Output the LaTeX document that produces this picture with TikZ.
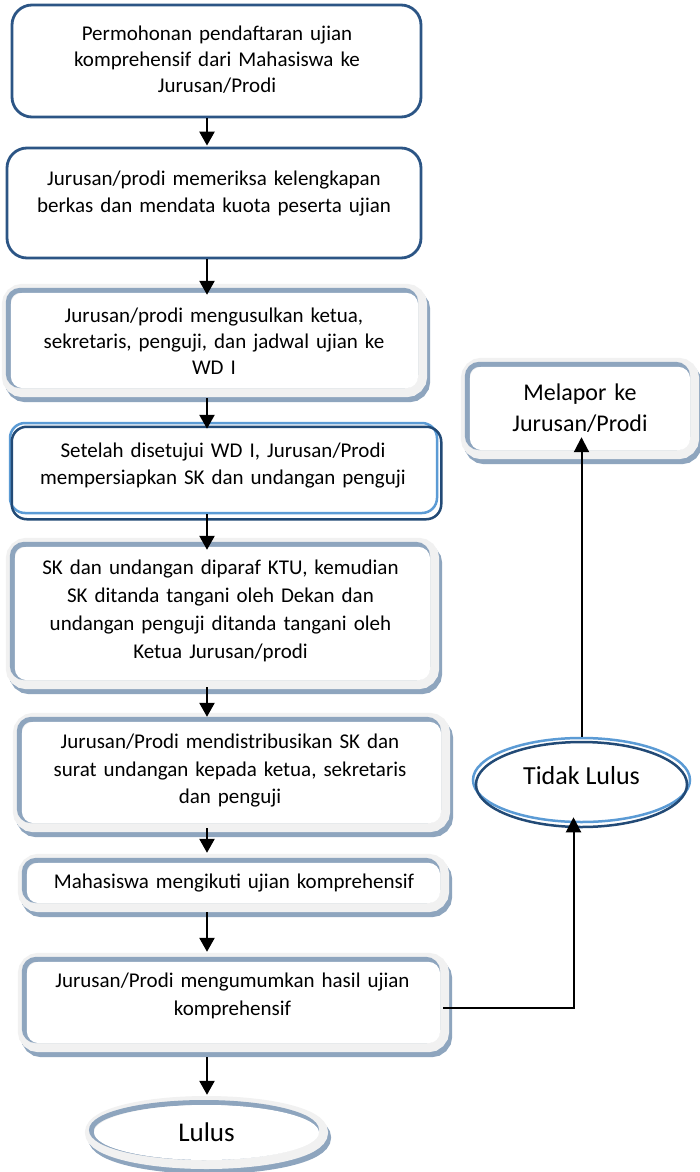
\documentclass[tikz,border=0pt]{standalone}
\usepackage{fontspec}
\setmainfont{Carlito}
\usetikzlibrary{arrows.meta,shapes.geometric,calc}
\pgfdeclarelayer{background}
\pgfsetlayers{background,main}
\definecolor{boxblue}{RGB}{44,85,133}
\definecolor{lblue}{RGB}{91,155,213}
\definecolor{dblue}{RGB}{34,74,118}
\definecolor{bevblue}{RGB}{142,165,190}
\definecolor{bevgray}{RGB}{241,241,241}

\newcommand\bevelrect[1]{%
 \begin{pgfonlayer}{background}
 \draw[bevblue,line width=18pt,rounded corners=12pt] ([shift={(3,5)}]#1.south west) rectangle ([shift={(3,5)}]#1.north east);
 \draw[bevgray,line width=18pt,rounded corners=12pt] (#1.south west) rectangle (#1.north east);
 \draw[bevblue,line width=5pt,rounded corners=12pt] ([shift={(-2.5,-2.5)}]#1.south west) rectangle ([shift={(-2.5,-2.5)}]#1.north east);
 \fill[white,rounded corners=12pt] (#1.south west) rectangle (#1.north east);
 \end{pgfonlayer}}

\newcommand\bevelell[3]{%
 \begin{pgfonlayer}{background}
 \draw[bevblue,line width=18pt] ([shift={(3,5)}]#1.center) ellipse [x radius=#2, y radius=#3];
 \draw[bevgray,line width=18pt] (#1.center) ellipse [x radius=#2, y radius=#3];
 \draw[bevblue,line width=5pt] ([shift={(-2.5,-2.5)}]#1.center) ellipse [x radius=#2, y radius=#3];
 \fill[white] (#1.center) ellipse [x radius=#2, y radius=#3];
 \end{pgfonlayer}}

\begin{document}
\begin{tikzpicture}[x=1pt,y=-1pt,
  plainbox/.style={draw=boxblue, line width=2.8pt, rounded corners=20pt, inner sep=0pt},
  bevbox/.style={inner sep=0pt},
  txt/.style={align=center, text width=430pt, inner sep=0pt, font=\fontsize{21}{27}\selectfont},
  arr/.style={line width=2.5pt, -{Triangle[width=15pt,length=14pt]}},
  sarr/.style={line width=2pt, -{Triangle[width=15pt,length=15pt]}}]
\useasboundingbox (0,0) rectangle (700,1172);
\begin{pgfonlayer}{background}
\fill[white] (0,0) rectangle (700,1172);
\end{pgfonlayer}

% box 1
\node[plainbox, minimum width=409pt, minimum height=112pt] (b1) at (216.5,61) {};
\node[txt, font=\fontsize{21}{26}\selectfont] (t1) at (217,59.5) {Permohonan pendaftaran ujian\\komprehensif dari Mahasiswa ke\\Jurusan/Prodi};
% box 2
\node[plainbox, minimum width=414pt, minimum height=110pt] (b2) at (214,203) {};
\node[txt] (t2) at (214,193.5) {Jurusan/prodi memeriksa kelengkapan\\berkas dan mendata kuota peserta ujian};
% box 3
\node[bevbox, minimum width=407pt, minimum height=95pt] (b3) at (214.5,340.5) {};
\bevelrect{b3}
\node[txt, font=\fontsize{21}{26}\selectfont] (t3) at (214,341) {Jurusan/prodi mengusulkan ketua,\\sekretaris, penguji, dan jadwal ujian ke\\WD I};
% box 4
\node[draw=lblue, line width=2.5pt, rounded corners=15pt, inner sep=0pt, minimum width=427pt, minimum height=90pt] (b4) at (223.5,468) {};
\draw[dblue, line width=2.5pt, rounded corners=15pt] ([shift={(3,5)}]b4.south west) rectangle ([shift={(3,5)}]b4.north east);
\node[txt] (t4) at (223,465.5) {Setelah disetujui WD I, Jurusan/Prodi\\mempersiapkan SK dan undangan penguji};
% box 5
\node[bevbox, minimum width=415pt, minimum height=133pt] (b5) at (222.5,613.5) {};
\bevelrect{b5}
\node[txt, font=\fontsize{21}{28}\selectfont] (t5) at (220.5,611) {SK dan undangan diparaf KTU, kemudian\\SK ditanda tangani oleh Dekan dan\\undangan penguji ditanda tangani oleh\\Ketua Jurusan/prodi};
% box 6
\node[bevbox, minimum width=419pt, minimum height=101pt] (b6) at (231.5,772.5) {};
\bevelrect{b6}
\node[txt, font=\fontsize{21}{27.5}\selectfont] (t6) at (230,771) {Jurusan/Prodi mendistribusikan SK dan\\surat undangan kepada ketua, sekretaris\\dan penguji};
% box 7
\node[bevbox, minimum width=413pt, minimum height=40pt] (b7) at (233.5,883) {};
\bevelrect{b7}
\node[txt] (t7) at (234,883) {Mahasiswa mengikuti ujian komprehensif};
% box 8
\node[bevbox, minimum width=413pt, minimum height=81pt] (b8) at (233.5,1002.5) {};
\bevelrect{b8}
\node[txt, font=\fontsize{21}{28}\selectfont] (t8) at (232.5,996) {Jurusan/Prodi mengumumkan hasil ujian\\komprehensif};
% Lulus
\node[ellipse, inner sep=0pt, minimum width=225pt, minimum height=55pt, font=\fontsize{27}{32}\selectfont] (lu) at (206.5,1132.5) {Lulus};
\bevelell{lu}{112.5pt}{27.5pt}
% Melapor
\node[bevbox, minimum width=220pt, minimum height=83pt, align=center, text width=220pt, font=\fontsize{24}{31}\selectfont] (m) at (580,408.5) {Melapor ke\\Jurusan/Prodi};
\bevelrect{m}
% Tidak Lulus
\node[ellipse, draw=lblue, line width=2.5pt, inner sep=0pt, minimum width=217pt, minimum height=84pt, text depth=10pt, font=\fontsize{26}{31}\selectfont] (tl) at (581.5,780) {Tidak Lulus};
\draw[dblue, line width=2.5pt] ([shift={(0,4.5)}]tl.center) ellipse [x radius=105.5pt, y radius=42.5pt];

% connectors
\coordinate (ax) at (207,0);
\draw[arr, shorten >=1pt] (b1.south -| ax) -- (b2.north -| ax);
\draw[arr, shorten >=-2pt] (b2.south -| ax) -- (b3.north -| ax);
\draw[arr, shorten <=10pt, shorten >=-7pt] (b3.south -| ax) -- (b4.north -| ax);
\draw[arr, shorten >=-3pt] (b4.south -| ax) -- (b5.north -| ax);
\draw[arr, shorten <=7pt, shorten >=5pt] (b5.south -| ax) -- (b6.north -| ax);
\draw[arr, shorten <=5pt, shorten >=10pt] (b6.south -| ax) -- (b7.north -| ax);
\draw[arr, shorten <=9pt, shorten >=10pt] (b7.south -| ax) -- (b8.north -| ax);
\draw[arr, shorten <=14pt, shorten >=10pt] (b8.south -| ax) -- (lu.north -| ax);
\draw[sarr, shorten <=3pt, shorten >=-6pt] ([yshift=-5.5pt]b8.east) -| ([xshift=-8pt]tl.south);
\draw[sarr, shorten >=-13pt] (tl.north) -- (tl.north |- m.south);
\end{tikzpicture}
\end{document}
